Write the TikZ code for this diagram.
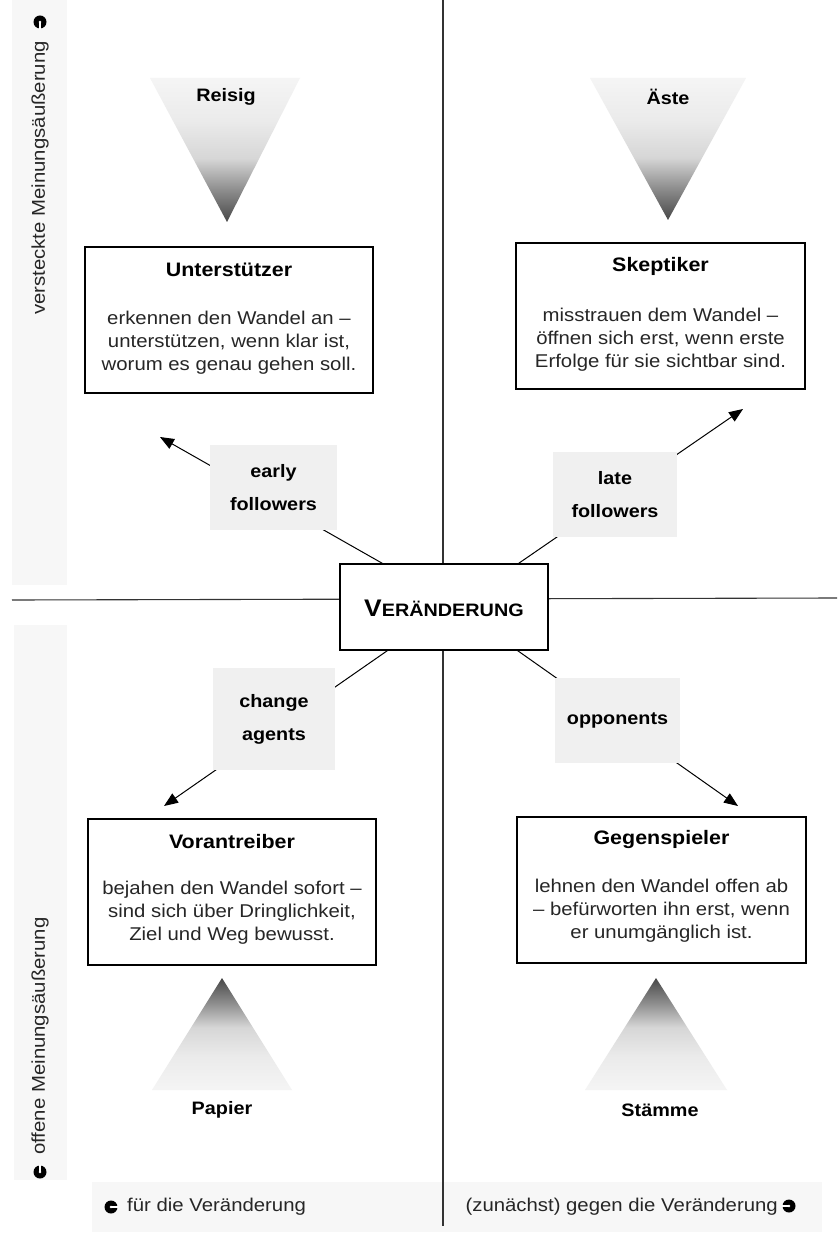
\documentclass[tikz,border=0pt]{standalone}
\usepackage{fontspec}
\setmainfont{Liberation Sans}[FakeStretch=1.1]
\usetikzlibrary{arrows.meta,calc}
\pgfdeclareverticalshading{darkbottom}{100bp}{color(0bp)=(black!72); color(25bp)=(black!72); color(36bp)=(black!45); color(47bp)=(black!16); color(60bp)=(black!8); color(75bp)=(black!4); color(100bp)=(black!4)}
\pgfdeclareverticalshading{darktop}{100bp}{color(0bp)=(black!4); color(25bp)=(black!4); color(40bp)=(black!8); color(53bp)=(black!16); color(64bp)=(black!45); color(75bp)=(black!72); color(100bp)=(black!72)}
\tikzset{
  rolebox/.style={draw=black, line width=1.3pt, fill=white, minimum width=288pt, minimum height=146pt, inner sep=0pt},
  roletitle/.style={font=\fontsize{19.5}{23}\selectfont\bfseries, inner sep=0pt},
  rolebody/.style={font=\fontsize{18.5}{23}\selectfont, align=center, inner sep=0pt, text=black!85},
  tag/.style={fill=gray!12, minimum width=125pt, minimum height=85pt, inner sep=0pt, align=center, font=\fontsize{18}{33}\selectfont\bfseries},
  arr/.style={line width=1pt, -{Triangle[length=14pt,width=11pt]}},
  axis/.style={line width=1.1pt, draw=black!80},
  sidetxt/.style={font=\fontsize{18.5}{22}\selectfont, inner sep=0pt, text=black!85},
  wood/.style={font=\fontsize{18}{22}\selectfont\bfseries, inner sep=0pt},
  circsym/.pic={
    \fill[black] (0,0) circle (6.5);
    \fill[white] (0,-1.4) rectangle (7,1.4);
    \fill[white] (0,0) circle (1.4);
  },
}
\begin{document}
\begin{tikzpicture}[x=1pt,y=-1pt]
\useasboundingbox (0,0) rectangle (837,1238);
\fill[white] (0,0) rectangle (837,1238);
% faint background strips
\fill[gray!6] (12,0) rectangle (67,585);
\fill[gray!6] (14,625) rectangle (67,1180);
\fill[gray!6] (92,1182) rectangle (822,1232);

% quadrant lines
\draw[axis] (443,0) -- (443,1226);
\draw[axis] (12,600) -- (837,598);

% triangles
\shade[shading=darkbottom] (150,78) -- (300,78) -- (227,222) -- cycle;
\shade[shading=darkbottom] (590,78) -- (746,78) -- (668,220) -- cycle;
\shade[shading=darktop] (222,978) -- (292,1090) -- (152,1090) -- cycle;
\shade[shading=darktop] (656,978) -- (727,1090) -- (585,1090) -- cycle;
\node[wood] (reisig) at (226,97) {Reisig};
\node[wood] (aeste) at (668,97) {Äste};
\node[wood] (papier) at (222,1110) {Papier};
\node[wood] (staemme) at (660,1110) {Stämme};

% center
\node[draw=black, line width=1.3pt, fill=white, minimum width=208pt, minimum height=86pt, inner sep=0pt] (ctr) at (444,607) {};
\node[inner sep=0pt, font=\bfseries] (ctrtxt) at (444,608) {\fontsize{24}{24}\selectfont V\fontsize{18}{24}\selectfont ERÄNDERUNG};

% role boxes
\node[rolebox] (ul) at (229,320) {};
\node[rolebox, minimum width=289pt] (ur) at (660.5,316) {};
\node[rolebox] (ll) at (232,892) {};
\node[rolebox, minimum width=289pt] (lr) at (661.5,890) {};

\node[roletitle] (ult) at ($(ul.north)+(0,23)$) {Unterstützer};
\node[rolebody] (ulb) at ($(ul.center)+(0,23)$) {erkennen den Wandel an –\\unterstützen, wenn klar ist,\\worum es genau gehen soll.};
\node[roletitle] (urt) at ($(ur.north)+(0,24)$) {Skeptiker};
\node[rolebody] (urb) at ($(ur.center)+(0,24)$) {misstrauen dem Wandel –\\öffnen sich erst, wenn erste\\Erfolge für sie sichtbar sind.};
\node[roletitle] (llt) at ($(ll.north)+(0,23)$) {Vorantreiber};
\node[rolebody] (llb) at ($(ll.center)+(0,21)$) {bejahen den Wandel sofort –\\sind sich über Dringlichkeit,\\Ziel und Weg bewusst.};
\node[roletitle] (lrt) at ($(lr.north)+(0,23)$) {Gegenspieler};
\node[rolebody] (lrb) at ($(lr.center)+(0,21)$) {lehnen den Wandel offen ab\\– befürworten ihn erst, wenn\\er unumgänglich ist.};

% arrow tips
\coordinate (tipul) at (160,437);
\coordinate (tipur) at (743,409);
\coordinate (tipll) at (164,806);
\coordinate (tiplr) at (738,806);

\draw[arr] ($(ctr.north west)+(43,0)$) -- (tipul);
\draw[arr] ($(ctr.north east)+(-30,0)$) -- (tipur);
\draw[arr] ($(ctr.south west)+(48,0)$) -- (tipll);
\draw[arr] ($(ctr.south east)+(-31,0)$) -- (tiplr);

% tags
\node[tag, minimum width=127pt] (early) at (273.5,487.5) {early\\followers};
\node[tag, minimum width=124pt] (late) at (615,494.5) {late\\followers};
\node[tag, minimum width=122pt, minimum height=102pt] (change) at (274,719) {change\\agents};
\node[tag] (opp) at (617.5,720.5) {opponents};

% side labels
\node[sidetxt, rotate=90] (hidden) at (40,178) {versteckte Meinungsäußerung};
\pic[rotate=-90] (symup) at (40,22) {circsym};
\node[sidetxt, rotate=90] (open) at (40,1036) {offene Meinungsäußerung};
\pic[rotate=90] (symdown) at (40,1172) {circsym};

% bottom labels
\pic (symleft) at (111,1207) {circsym};
\node[sidetxt, anchor=west] (fuer) at (127,1207) {für die Veränderung};
\node[sidetxt, anchor=east] (gegen) at (778,1207) {(zunächst) gegen die Veränderung};
\pic[rotate=180] (symright) at (789,1206) {circsym};
\end{tikzpicture}
\end{document}
